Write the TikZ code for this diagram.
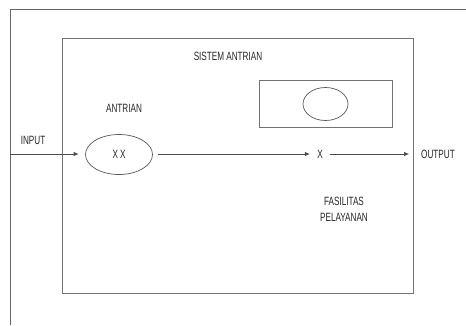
\documentclass[tikz,border=0pt]{standalone}
\usepackage{fontspec}
\setmainfont{Liberation Sans}[FakeStretch=0.68]
\usetikzlibrary{arrows.meta,shapes.geometric}
\begin{document}
\begin{tikzpicture}[x=1pt,y=-1pt,
  ln/.style={draw=black!70,line width=0.7pt},
  box/.style={draw=black!55,line width=0.9pt},
  lbl/.style={font=\fontsize{12}{14}\selectfont,text=black!85,inner sep=0pt},
  arr/.style={ln,-{Latex[length=5pt,width=4.5pt]}},
  ell/.style={ellipse,draw=black!65,line width=0.7pt,inner sep=0pt}]
\useasboundingbox (0,0) rectangle (466,325);
\fill[white] (0,0) rectangle (466,325);
% outer page frame
\coordinate (ftl) at (10,9);
\coordinate (fbl) at (10,325);
\coordinate (ftr) at (466,9);
\draw[ln,draw=black!60] (fbl) -- (ftl) -- (ftr);
% inner system box
\node[box,minimum width=351.5pt,minimum height=255pt,anchor=north west,inner sep=0pt] (sys) at (61.5,38) {};
\node[lbl] (title) at (228,56) {SISTEM ANTRIAN};
% service facility
\node[box,minimum width=133.5pt,minimum height=47pt,anchor=north west,inner sep=0pt] (fac) at (258.5,80) {};
\node[ell,minimum width=45pt,minimum height=33pt] (srv) at (325.5,104) {};
% queue
\node[lbl] (antrian) at (124,108) {ANTRIAN};
\node[ell,minimum width=67pt,minimum height=40pt,lbl] (q) at (119,154.5) {X\,X};
\node[lbl] (input) at (33,140) {INPUT};
\coordinate (in) at (10,154);
\node[lbl,minimum width=20pt,minimum height=12pt] (x) at (320,154) {X};
\node[lbl,anchor=west,minimum height=12pt] (output) at (421,154) {OUTPUT};
\node[lbl,align=center,font=\fontsize{12}{16}\selectfont] (fl) at (344,209) {FASILITAS\\PELAYANAN};
% connectors
\draw[arr,shorten >=6.5pt] (in) -- (in -| q.west);
\draw[arr,shorten <=5.5pt] (q.east |- in) -- (x.west);
\draw[arr,shorten >=12pt] (x.east) -- (output.west);
\end{tikzpicture}
\end{document}
